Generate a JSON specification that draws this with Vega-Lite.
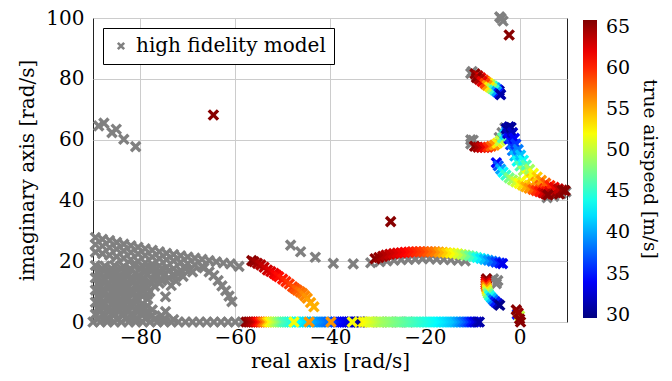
{
"$schema": "https://vega.github.io/schema/vega-lite/v6.json",
"width": 474, "height": 304,
"autosize": {"type": "none"},
"padding": {"left": 93, "top": 18, "right": 105, "bottom": 59},
"datasets": {
"gray": [
{"re":-88.8,"im":64.5},{"re":-87.7,"im":65.4},{"re":-86,"im":62.3},{"re":-85.1,"im":63.4},{"re":-83.5,"im":60.1},{"re":-81,"im":57.7},
{"re":-3.9,"im":99.9},{"re":-3.5,"im":99},{"re":-4.2,"im":100.4},
{"re":-89.5,"im":27.8},{"re":-88,"im":27.2},{"re":-86.5,"im":26.8},{"re":-85,"im":26.2},{"re":-83.5,"im":25.6},{"re":-82,"im":25.1},{"re":-80.5,"im":24.6},{"re":-79,"im":24.1},{"re":-77.5,"im":23.6},{"re":-76,"im":23.1},{"re":-74.5,"im":22.6},{"re":-73,"im":22.2},{"re":-71.5,"im":21.8},{"re":-70,"im":21.4},{"re":-68.5,"im":21},{"re":-67,"im":20.6},{"re":-65.5,"im":20.2},{"re":-64,"im":19.8},{"re":-62.5,"im":19.4},{"re":-61,"im":19.1},{"re":-59.2,"im":18.3},
{"re":-89.5,"im":25.5},{"re":-88,"im":25},{"re":-86.5,"im":24.5},{"re":-85,"im":24},{"re":-83.5,"im":23.4},{"re":-82,"im":22.9},{"re":-80.5,"im":22.4},{"re":-79,"im":21.9},{"re":-77.5,"im":21.4},{"re":-76,"im":20.9},{"re":-74.5,"im":20.5},{"re":-73,"im":20.1},{"re":-71.5,"im":19.6},{"re":-70,"im":19.2},{"re":-68.5,"im":18.8},{"re":-67,"im":18.2},
{"re":-89.5,"im":23},{"re":-88,"im":22.5},{"re":-86.5,"im":22},{"re":-85,"im":21.5},{"re":-83.5,"im":21},{"re":-82,"im":20.5},{"re":-80.5,"im":20},{"re":-79,"im":19.5},{"re":-77.5,"im":19},{"re":-76,"im":18.5},{"re":-74.5,"im":18},{"re":-73,"im":17.5},{"re":-71.5,"im":17},
{"re":-66.6,"im":17.8},{"re":-65.5,"im":16.5},{"re":-64.5,"im":15.3},{"re":-63.6,"im":13.6},{"re":-62.8,"im":11.9},{"re":-62,"im":10.3},{"re":-61.3,"im":8.5},{"re":-60.7,"im":6.7},
{"re":-70.5,"im":17.5},{"re":-69,"im":16.5},{"re":-71,"im":15},{"re":-72.5,"im":13.5},{"re":-73.5,"im":12},{"re":-72,"im":16},{"re":-74,"im":14.5},
{"re":-89.5,"im":18.6},{"re":-87.5,"im":18.4},{"re":-85.5,"im":18.6},{"re":-83.5,"im":18.3},{"re":-81.5,"im":18.6},{"re":-79.5,"im":18.2},{"re":-77.5,"im":17.8},{"re":-75.5,"im":17.6},{"re":-74,"im":16.8},
{"re":-88,"im":17.5},{"re":-86,"im":17.4},{"re":-84,"im":17.6},{"re":-82,"im":17.3},{"re":-80,"im":17.5},{"re":-78,"im":17.2},{"re":-76,"im":16.6},
{"re":-89,"im":16.5},{"re":-87,"im":16.3},{"re":-85,"im":16.6},{"re":-83,"im":16.4},{"re":-81,"im":16.2},{"re":-79,"im":16.5},{"re":-77,"im":16},{"re":-75,"im":15.5},{"re":-73,"im":15.6},
{"re":-88.5,"im":15.4},{"re":-86.5,"im":15.5},{"re":-84.5,"im":15.3},{"re":-82.5,"im":15.4},{"re":-80.5,"im":15.2},{"re":-78.5,"im":15.4},{"re":-76.5,"im":14.8},
{"re":-89.5,"im":14.5},{"re":-87.5,"im":14.3},{"re":-85.5,"im":14.6},{"re":-83.5,"im":14.4},{"re":-81.5,"im":14.2},{"re":-79.5,"im":14.4},{"re":-77.5,"im":14},{"re":-75.5,"im":13.6},
{"re":-88,"im":13.4},{"re":-86,"im":13.5},{"re":-84,"im":13.3},{"re":-82,"im":13.4},{"re":-80,"im":13.2},{"re":-78,"im":13.1},
{"re":-89,"im":12.5},{"re":-87,"im":12.3},{"re":-85,"im":12.6},{"re":-83,"im":12.4},{"re":-81,"im":12.2},{"re":-79,"im":12.3},{"re":-77,"im":11.8},{"re":-76,"im":12.8},
{"re":-88.5,"im":11.4},{"re":-86.5,"im":11.5},{"re":-84.5,"im":11.3},{"re":-82.5,"im":11.4},{"re":-80.5,"im":11.2},{"re":-78.5,"im":11.1},
{"re":-89.5,"im":10.5},{"re":-87.5,"im":10.3},{"re":-85.5,"im":10.6},{"re":-83.5,"im":10.4},{"re":-81.5,"im":10.2},{"re":-79.5,"im":10.3},{"re":-78,"im":10},
{"re":-88,"im":9.4},{"re":-86,"im":9.5},{"re":-84,"im":9.3},{"re":-82,"im":9.4},{"re":-80,"im":9.2},{"re":-78.5,"im":9.1},
{"re":-89,"im":8.5},{"re":-87,"im":8.3},{"re":-85,"im":8.6},{"re":-83,"im":8.4},{"re":-81,"im":8.2},{"re":-79.5,"im":8.5},{"re":-78.5,"im":7.5},
{"re":-88.5,"im":7.4},{"re":-86.5,"im":7.5},{"re":-84.5,"im":7.3},{"re":-82.5,"im":7.4},{"re":-80.5,"im":7.2},
{"re":-89.5,"im":6.5},{"re":-87.5,"im":6.3},{"re":-85.5,"im":6.6},{"re":-83.5,"im":6.4},{"re":-81.5,"im":6.2},{"re":-79.5,"im":6},
{"re":-88,"im":5.4},{"re":-86,"im":5.5},{"re":-84,"im":5.3},{"re":-82,"im":5.4},{"re":-80,"im":5.2},{"re":-78.5,"im":5.3},
{"re":-89,"im":4.5},{"re":-87,"im":4.3},{"re":-85,"im":4.6},{"re":-83,"im":4.4},{"re":-81,"im":4.2},{"re":-79,"im":4.5},{"re":-77.5,"im":4},
{"re":-88.5,"im":3.4},{"re":-86.5,"im":3.5},{"re":-84.5,"im":3.3},{"re":-82.5,"im":3.4},{"re":-80.5,"im":3.2},{"re":-78.5,"im":3.3},
{"re":-89.5,"im":2.5},{"re":-87.5,"im":2.3},{"re":-85.5,"im":2.6},{"re":-83.5,"im":2.4},{"re":-81.5,"im":2.2},{"re":-79.5,"im":2.5},{"re":-77.5,"im":2.2},{"re":-75.5,"im":2},
{"re":-89,"im":1},{"re":-87,"im":1.2},{"re":-85,"im":0.9},{"re":-83,"im":1.1},{"re":-81,"im":1},{"re":-79,"im":1.2},{"re":-77,"im":0.9},{"re":-75,"im":1},{"re":-73,"im":0.8},
{"re":-90,"im":0},{"re":-88.5,"im":0},{"re":-87,"im":0},{"re":-85.5,"im":0},{"re":-84,"im":0},{"re":-82.5,"im":0},{"re":-81,"im":0},{"re":-79.5,"im":0},{"re":-78,"im":0},{"re":-76.5,"im":0},{"re":-75,"im":0},{"re":-73.5,"im":0},{"re":-72,"im":0},{"re":-70.5,"im":0},{"re":-69,"im":0},{"re":-67.5,"im":0},{"re":-66,"im":0},{"re":-64.5,"im":0},{"re":-63,"im":0},{"re":-61.5,"im":0},{"re":-60,"im":0},{"re":-58.5,"im":0},
{"re":-74.7,"im":8.3},{"re":-74.7,"im":3.4},
{"re":-48.3,"im":25.3},{"re":-46.2,"im":23.1},{"re":-43.1,"im":21.3},{"re":-39.3,"im":19.3},{"re":-35.1,"im":19.1},{"re":-31.4,"im":19.5},
{"re":-29.5,"im":19.8},{"re":-28,"im":20.1},{"re":-26.5,"im":20.3},{"re":-25,"im":20.5},{"re":-23.5,"im":20.6},{"re":-22,"im":20.7},{"re":-20.5,"im":20.8},{"re":-19,"im":20.8},{"re":-17.5,"im":20.7},{"re":-16,"im":20.6},{"re":-14.5,"im":20.5},{"re":-13,"im":20.3},{"re":-11.5,"im":20.1},
{"re":-33.5,"im":0},{"re":-31.5,"im":0},{"re":-29.5,"im":0},{"re":-27.5,"im":0},{"re":-25.5,"im":0},{"re":-23.5,"im":0},
{"re":-5.5,"im":14.2},{"re":-4.6,"im":13.6},{"re":-4.9,"im":12.6},
{"re":-10.3,"im":81.8},{"re":-10,"im":82.4},{"re":-10.3,"im":59.9},{"re":-10.3,"im":58.6},{"re":-9.8,"im":59.8},{"re":-4.3,"im":60.7},{"re":-3.7,"im":62.3},{"re":-3.1,"im":63.9},{"re":5.8,"im":40.9},{"re":7.2,"im":41.3},{"re":8.8,"im":42.2},{"re":9.8,"im":42.8}
],
"col": [
{"re":-57.7,"im":0,"v":65.5},{"re":-57.2,"im":0,"v":65},{"re":-56.7,"im":0,"v":64.5},{"re":-56.2,"im":0,"v":64},{"re":-55.7,"im":0,"v":63},{"re":-55.2,"im":0,"v":61.5},{"re":-54.7,"im":0,"v":60},{"re":-54.2,"im":0,"v":58},{"re":-53.7,"im":0,"v":56.5},{"re":-53.2,"im":0,"v":54},{"re":-52.7,"im":0,"v":52.5},{"re":-52.2,"im":0,"v":51},{"re":-51.7,"im":0,"v":50},{"re":-51.2,"im":0,"v":49},{"re":-50.7,"im":0,"v":48},{"re":-50.2,"im":0,"v":47},{"re":-49.7,"im":0,"v":46},{"re":-49.2,"im":0,"v":45.5},{"re":-48.7,"im":0,"v":45},{"re":-48.2,"im":0,"v":44.5},{"re":-47.2,"im":0,"v":44},{"re":-46.5,"im":0,"v":43.5},{"re":-46,"im":0,"v":43},{"re":-45.5,"im":0,"v":42.5},{"re":-45,"im":0,"v":42},{"re":-44,"im":0,"v":41},{"re":-43.4,"im":0,"v":40.5},{"re":-42.8,"im":0,"v":40},{"re":-42.2,"im":0,"v":39.5},{"re":-41.6,"im":0,"v":39},{"re":-41,"im":0,"v":38.5},{"re":-40.4,"im":0,"v":38},{"re":-39,"im":0,"v":37},{"re":-38.5,"im":0,"v":36},{"re":-38,"im":0,"v":35},{"re":-37.5,"im":0,"v":34.5},{"re":-37,"im":0,"v":34},{"re":-36.5,"im":0,"v":33.5},{"re":-36,"im":0,"v":33},{"re":-35.5,"im":0,"v":32.5},{"re":-34.8,"im":0,"v":31.5},{"re":-34.2,"im":0,"v":31},{"re":-33.6,"im":0,"v":30.5},
{"re":-33,"im":0,"v":52.5},{"re":-32.4,"im":0,"v":52},{"re":-31.8,"im":0,"v":51.5},{"re":-31.2,"im":0,"v":51},{"re":-30.6,"im":0,"v":50.5},{"re":-30,"im":0,"v":50},{"re":-29.4,"im":0,"v":49.5},{"re":-28.8,"im":0,"v":49},{"re":-28.2,"im":0,"v":48.7},{"re":-27.6,"im":0,"v":48.4},{"re":-27,"im":0,"v":48.1},{"re":-26.4,"im":0,"v":47.8},{"re":-25.8,"im":0,"v":47.5},{"re":-25.2,"im":0,"v":47.2},{"re":-24.6,"im":0,"v":46.9},{"re":-24,"im":0,"v":46.6},{"re":-23.4,"im":0,"v":46.3},{"re":-22.8,"im":0,"v":46},{"re":-22.2,"im":0,"v":45.7},{"re":-21.6,"im":0,"v":45.4},{"re":-21,"im":0,"v":45.1},{"re":-20.4,"im":0,"v":44.8},{"re":-19.8,"im":0,"v":44.5},{"re":-19.2,"im":0,"v":44.2},{"re":-18.6,"im":0,"v":43.9},{"re":-18,"im":0,"v":43.6},{"re":-17.4,"im":0,"v":43.3},{"re":-16.8,"im":0,"v":43},{"re":-16.2,"im":0,"v":42.6},{"re":-15.6,"im":0,"v":42.2},{"re":-15,"im":0,"v":41.8},{"re":-14.4,"im":0,"v":41.4},{"re":-13.8,"im":0,"v":41},{"re":-13.2,"im":0,"v":40.2},{"re":-12.6,"im":0,"v":39.4},{"re":-12,"im":0,"v":38.5},{"re":-11.4,"im":0,"v":37.5},{"re":-10.8,"im":0,"v":36.3},{"re":-10.2,"im":0,"v":35},{"re":-9.6,"im":0,"v":33.5},{"re":-9,"im":0,"v":32},{"re":-8.5,"im":0,"v":31},
{"re":-47.6,"im":0,"v":52},{"re":-44.4,"im":0,"v":56},{"re":-39.8,"im":0,"v":56},{"re":-35.3,"im":0,"v":52},
{"re":-56.5,"im":20.2,"v":65.5},{"re":-56,"im":19.8,"v":65},{"re":-55.3,"im":19.3,"v":64.5},{"re":-54.6,"im":18.8,"v":64},{"re":-53.9,"im":18,"v":63.5},{"re":-53.2,"im":17.1,"v":63},{"re":-52.5,"im":16.6,"v":62.5},{"re":-51.8,"im":16,"v":62},{"re":-51.3,"im":15.4,"v":61.5},{"re":-50.8,"im":14.9,"v":61},{"re":-50,"im":14.1,"v":60.5},{"re":-49.3,"im":13.3,"v":60},{"re":-48.6,"im":12.5,"v":59.5},{"re":-47.9,"im":11.6,"v":59},{"re":-47.4,"im":11,"v":58.5},{"re":-46.9,"im":10.5,"v":58},{"re":-46.3,"im":9.9,"v":57.5},{"re":-45.8,"im":9.4,"v":57},{"re":-45.3,"im":8.6,"v":56.5},{"re":-44.8,"im":7.8,"v":56},{"re":-44.1,"im":6.4,"v":55.5},{"re":-43.4,"im":5,"v":55},
{"re":-30.5,"im":20.8,"v":65.5},{"re":-29.7,"im":21.2,"v":65},{"re":-28.9,"im":21.6,"v":64.5},{"re":-28.2,"im":22,"v":64},{"re":-27.4,"im":22.3,"v":63.5},{"re":-26.6,"im":22.5,"v":63},{"re":-25.8,"im":22.7,"v":62.5},{"re":-25,"im":22.8,"v":62},{"re":-24.2,"im":22.9,"v":61.5},{"re":-23.4,"im":23,"v":61},{"re":-22.6,"im":23.1,"v":60.5},{"re":-21.8,"im":23.1,"v":60},{"re":-21,"im":23.1,"v":59.5},{"re":-20.2,"im":23.1,"v":59},{"re":-19.4,"im":23.1,"v":58.3},{"re":-18.6,"im":23.1,"v":57.6},{"re":-17.8,"im":23.1,"v":57},{"re":-17,"im":23,"v":56},{"re":-16.2,"im":22.9,"v":55},{"re":-15.4,"im":22.8,"v":54},{"re":-14.6,"im":22.7,"v":53},{"re":-13.8,"im":22.6,"v":52},{"re":-13,"im":22.4,"v":51},{"re":-12.2,"im":22.2,"v":50},{"re":-11.4,"im":22,"v":48.5},{"re":-10.6,"im":21.8,"v":47},{"re":-9.8,"im":21.5,"v":45.5},{"re":-9,"im":21.2,"v":44},{"re":-8.2,"im":20.9,"v":42.5},{"re":-7.4,"im":20.6,"v":41},{"re":-6.6,"im":20.3,"v":39.5},{"re":-5.8,"im":20,"v":38},{"re":-5,"im":19.7,"v":36.5},{"re":-4.2,"im":19.4,"v":35},{"re":-3.6,"im":19.2,"v":33.5},
{"re":-7,"im":14.2,"v":65.5},{"re":-7.1,"im":13.5,"v":64},{"re":-7.1,"im":12.8,"v":62},{"re":-7.1,"im":12.1,"v":59},{"re":-7,"im":11.4,"v":56},{"re":-6.9,"im":10.7,"v":53},{"re":-6.8,"im":10,"v":50},{"re":-6.6,"im":9.3,"v":47},{"re":-6.3,"im":8.6,"v":44},{"re":-5.9,"im":7.9,"v":41},{"re":-5.5,"im":7.2,"v":38},{"re":-5.1,"im":6.6,"v":35},{"re":-4.6,"im":6,"v":32},{"re":-4.2,"im":5.5,"v":30},
{"re":-0.5,"im":2.5,"v":35},{"re":0,"im":2,"v":50},{"re":-0.7,"im":4,"v":65.5},{"re":-0.3,"im":3,"v":65},{"re":0,"im":1,"v":65.5},{"re":0.2,"im":0,"v":65.5},
{"re":-9.4,"im":81.6,"v":65.5},{"re":-8.8,"im":81,"v":64},{"re":-8.2,"im":80.3,"v":62},{"re":-7.6,"im":79.6,"v":59},{"re":-7.1,"im":79,"v":56},{"re":-6.6,"im":78.5,"v":53},{"re":-6.1,"im":78,"v":49},{"re":-5.6,"im":77.5,"v":45},{"re":-5.1,"im":77,"v":40},{"re":-4.6,"im":76.4,"v":35},{"re":-4.3,"im":76,"v":31},
{"re":-9.1,"im":80.4,"v":65.5},{"re":-8.5,"im":79.8,"v":64},{"re":-7.9,"im":79.1,"v":62},{"re":-7.3,"im":78.4,"v":59},{"re":-6.8,"im":77.8,"v":56},{"re":-6.3,"im":77.3,"v":53},{"re":-5.8,"im":76.8,"v":49},{"re":-5.3,"im":76.3,"v":45},{"re":-4.8,"im":75.8,"v":40},{"re":-4.3,"im":75.2,"v":35},{"re":-4,"im":74.8,"v":31},
{"re":-9.5,"im":57.8,"v":65.5},{"re":-8.8,"im":57.5,"v":64.5},{"re":-8.1,"im":57.4,"v":63.5},{"re":-7.4,"im":57.4,"v":62},{"re":-6.7,"im":57.5,"v":60},{"re":-6,"im":57.8,"v":58},{"re":-5.3,"im":58.2,"v":56},{"re":-4.7,"im":58.8,"v":53},{"re":-4.1,"im":59.6,"v":50},{"re":-3.6,"im":60.6,"v":46},{"re":-3.1,"im":61.7,"v":42},{"re":-2.7,"im":62.8,"v":38},{"re":-2.4,"im":63.7,"v":34},{"re":-2.2,"im":64.2,"v":31},
{"re":-2.8,"im":63.6,"v":30.5},{"re":-2.5,"im":62,"v":32},{"re":-2.2,"im":60.2,"v":34},{"re":-1.9,"im":58.3,"v":36},{"re":-1.5,"im":56.4,"v":38.5},{"re":-1,"im":54.6,"v":41},{"re":-0.5,"im":52.9,"v":43.5},{"re":0.1,"im":51.3,"v":46},{"re":0.8,"im":49.8,"v":49},{"re":1.6,"im":48.4,"v":52},{"re":2.4,"im":47.2,"v":54},{"re":3.3,"im":46.1,"v":56},{"re":4.2,"im":45.1,"v":58},{"re":5.1,"im":44.3,"v":60},{"re":6,"im":43.6,"v":62},{"re":6.9,"im":43,"v":63.5},{"re":7.7,"im":42.5,"v":65},{"re":8.4,"im":42.1,"v":65.5},
{"re":-1.8,"im":64,"v":30.5},{"re":-1.5,"im":62.3,"v":32},{"re":-1.1,"im":60.4,"v":34},{"re":-0.8,"im":58.5,"v":36},{"re":-0.3,"im":56.7,"v":38.5},{"re":0.2,"im":54.9,"v":41},{"re":0.8,"im":53.2,"v":43.5},{"re":1.4,"im":51.6,"v":46},{"re":2.1,"im":50.2,"v":49},{"re":2.9,"im":48.9,"v":52},{"re":3.7,"im":47.7,"v":54},{"re":4.6,"im":46.6,"v":56},{"re":5.5,"im":45.7,"v":58},{"re":6.4,"im":44.9,"v":60},{"re":7.3,"im":44.3,"v":62},{"re":8.2,"im":43.8,"v":63.5},{"re":9,"im":43.4,"v":65},{"re":9.6,"im":43.2,"v":65.5},
{"re":-4.9,"im":52.4,"v":34},{"re":-4.5,"im":51.4,"v":37},{"re":-4,"im":50.3,"v":40},{"re":-3.5,"im":49.3,"v":43},{"re":-2.9,"im":48.3,"v":45},{"re":-2.2,"im":47.4,"v":47.5},{"re":-1.5,"im":46.7,"v":49},{"re":-0.8,"im":46.1,"v":50.5},{"re":-0.1,"im":45.6,"v":52},{"re":0.6,"im":45,"v":53.5},{"re":1.3,"im":44.5,"v":55},{"re":2,"im":44,"v":56},{"re":2.8,"im":43.6,"v":58},{"re":3.5,"im":43.2,"v":59.5},{"re":4.2,"im":42.9,"v":60.6},{"re":4.9,"im":42.5,"v":62.5},{"re":5.5,"im":42.1,"v":64},{"re":6,"im":41.8,"v":65.5},
{"re":-27.2,"im":33,"v":65.5},{"re":-64.6,"im":68.1,"v":65.5},{"re":-2.2,"im":94.4,"v":65.5}
]
},
"config": {
"font": "DejaVu Serif",
"view": {"stroke": "#222222", "strokeWidth": 1},
"axis": {"labelFont": "DejaVu Serif", "titleFont": "DejaVu Serif", "labelFontSize": 20, "titleFontSize": 20, "titleFontWeight": "normal", "labelColor": "black", "titleColor": "black", "gridColor": "#cccccc", "gridWidth": 1, "domain": false, "ticks": false},
"legend": {"labelFont": "DejaVu Serif", "titleFont": "DejaVu Serif", "labelColor": "black", "titleColor": "black", "labelLimit": 0, "titleLimit": 0}
},
"layer": [
{
"data": {"name": "gray"},
"mark": {"type": "point", "shape": "M-1,-1L1,1M-1,1L1,-1", "filled": false, "size": 85, "strokeWidth": 3.4, "opacity": 1},
"encoding": {
"x": {"field": "re", "type": "quantitative", "scale": {"domain": [-90, 10], "nice": false, "zero": false}, "axis": {"values": [-80, -60, -40, -20, 0], "title": "real axis [rad/s]", "labelPadding": 5, "titlePadding": 4}},
"y": {"field": "im", "type": "quantitative", "scale": {"domain": [0, 100], "nice": false, "zero": false}, "axis": {"values": [0, 20, 40, 60, 80, 100], "title": "imaginary axis [rad/s]", "labelPadding": 9, "titlePadding": 8}},
"color": {"datum": "high fidelity model", "type": "nominal", "scale": {"domain": ["high fidelity model"], "range": ["#808080"]},
"legend": {"orient": "top-left", "offset": 10, "title": null, "padding": 8, "strokeColor": "black", "fillColor": "white", "labelFontSize": 20, "labelOffset": 5, "labelLimit": 0, "symbolType": "M-1,-1L1,1M-1,1L1,-1", "symbolSize": 40, "symbolStrokeWidth": 2.6, "symbolStrokeColor": "#808080", "symbolFillColor": "transparent"}}
}
},
{
"data": {"name": "col"},
"mark": {"type": "point", "shape": "M-1,-1L1,1M-1,1L1,-1", "filled": false, "size": 85, "strokeWidth": 3.4, "opacity": 1},
"encoding": {
"x": {"field": "re", "type": "quantitative"},
"y": {"field": "im", "type": "quantitative"},
"color": {"field": "v", "type": "quantitative",
"scale": {"domain": [29.6, 65.8], "range": ["#000080", "#0000ff", "#0080ff", "#00ffff", "#80ff80", "#ffff00", "#ff8000", "#ff0000", "#800000"], "interpolate": "rgb"},
"legend": {"orient": "none", "legendX": 490, "legendY": 2, "direction": "vertical", "gradientLength": 298, "gradientThickness": 14, "gradientStrokeWidth": 0, "values": [30, 35, 40, 45, 50, 55, 60, 65], "labelOverlap": false, "labelFontSize": 19, "labelOffset": 9, "padding": 0, "title": "true airspeed [m/s]", "titleLimit": 0, "titleOrient": "right", "titleAngle": 270, "titleAnchor": "middle", "titleFontSize": 18.5, "titleFontWeight": "normal", "titlePadding": 10}}
}
}
],
"resolve": {"scale": {"color": "independent"}, "legend": {"color": "independent"}}
}
